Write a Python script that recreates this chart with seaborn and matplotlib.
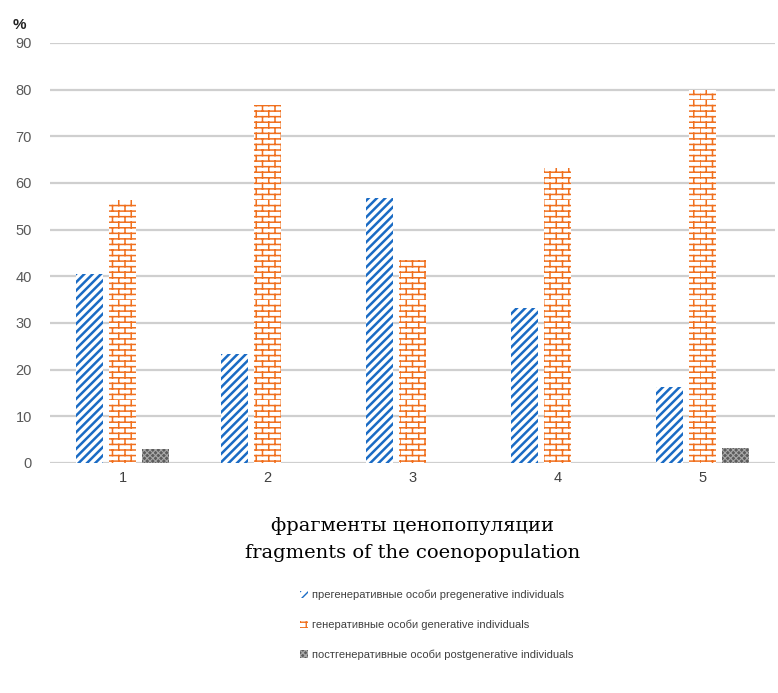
import warnings
import numpy as np
import pandas as pd
import matplotlib
matplotlib.use("Agg")
import matplotlib.pyplot as plt
import matplotlib.hatch as mhatch
from matplotlib.path import Path
from matplotlib.patches import Patch
import seaborn as sns

warnings.filterwarnings("ignore")

# ---- data ----
fragments = ["1", "2", "3", "4", "5"]
pregenerative = [40.5, 23.3, 56.8, 33.3, 16.3]
generative = [56.3, 76.7, 43.4, 63.2, 80.0]
postgenerative = [3.0, 0.0, 0.0, 0.0, 3.3]
series_labels = [
    "прегенеративные особи pregenerative individuals",
    "генеративные особи generative individuals",
    "постгенеративные особи postgenerative individuals",
]
y_ticks = [0, 10, 20, 30, 40, 50, 60, 70, 80, 90]

colors = ["#1A6BC4", "#F0701E", "#5C5C5C"]
hatches = ["////", "b", "xxxxxx"]
hatch_colors = ["#1A6BC4", "#F0701E", "#A8A8A8"]
faces = ["white", "white", "#5C5C5C"]
hatch_lws = [1.8, 1.1, 0.8]


# ---- custom brick hatch ----
class BrickHatch(mhatch.HatchPatternBase):
    def __init__(self, hatch, density):
        self.on = "b" in hatch
        self.rows = 18
        self.cols = 8
        self.num_vertices = (self.rows * (2 + 2 * self.cols)) if self.on else 0

    def set_vertices_and_codes(self, vertices, codes):
        i = 0
        for r in range(self.rows):
            y0 = r / self.rows
            y1 = (r + 1) / self.rows
            vertices[i] = (0.0, y0); codes[i] = Path.MOVETO; i += 1
            vertices[i] = (1.0, y0); codes[i] = Path.LINETO; i += 1
            off = 0.5 * (r % 2)
            for c in range(self.cols):
                x = (c + off) / self.cols
                vertices[i] = (x, y0); codes[i] = Path.MOVETO; i += 1
                vertices[i] = (x, y1); codes[i] = Path.LINETO; i += 1


mhatch._hatch_types.append(BrickHatch)

df = pd.DataFrame({
    "fragment": fragments * 3,
    "value": pregenerative + generative + postgenerative,
    "group": [series_labels[0]] * 5 + [series_labels[1]] * 5 + [series_labels[2]] * 5,
})

sns.set_theme(style="white")
plt.rcParams["font.family"] = ["Liberation Sans", "DejaVu Sans"]

fig = plt.figure(figsize=(7.78, 6.93), dpi=100)
ax = fig.add_axes([50 / 778, 1 - 463 / 693, 725 / 778, 420 / 693])

sns.barplot(data=df, x="fragment", y="value", hue="group", hue_order=series_labels,
            palette=colors, width=0.68, gap=0.18, errorbar=None, legend=False, ax=ax)

for cont, face, hc, h, hlw in zip(ax.containers, faces, hatch_colors, hatches, hatch_lws):
    for bar in cont:
        bar.set_facecolor(face)
        bar.set_edgecolor(hc)
        bar.set_linewidth(0)
        bar.set_hatch(h)
        if hasattr(bar, "set_hatch_linewidth"):
            bar.set_hatch_linewidth(hlw)

ax.set_ylim(0, 90)
ax.set_xlim(-0.5, 4.5)
ax.set_yticks(y_ticks)
ax.yaxis.grid(True, color="#CFCFCF", linewidth=1.6)
ax.set_axisbelow(True)
for s in ax.spines.values():
    s.set_visible(False)
ax.tick_params(axis="y", length=0, pad=13, labelsize=10.5, labelcolor="#595959")
ax.tick_params(axis="x", length=0, pad=6, labelsize=10.5, labelcolor="#404040")
ax.set_ylabel("")
ax.set_xlabel("фрагменты ценопопуляции\nfragments of the coenopopulation",
              family=["DejaVu Serif"], fontsize=14,
              linespacing=1.6, labelpad=23, color="#000000")

fig.text(13 / 778, 1 - 32 / 693, "%", fontsize=11, fontweight="bold", color="#222222",
         ha="left", va="bottom")

handles = [Patch(facecolor=f, edgecolor=hc, hatch=h, linewidth=0)
           for f, hc, h in zip(faces, hatch_colors, hatches)]
fig.legend(handles, series_labels, loc="upper left",
           bbox_to_anchor=(290 / 778, 1 - 580 / 693), frameon=False,
           fontsize=8, labelcolor="#404040", handlelength=0.7, handleheight=0.7,
           handletextpad=0.4, labelspacing=1.75)

fig.savefig("out.png", dpi=100)
